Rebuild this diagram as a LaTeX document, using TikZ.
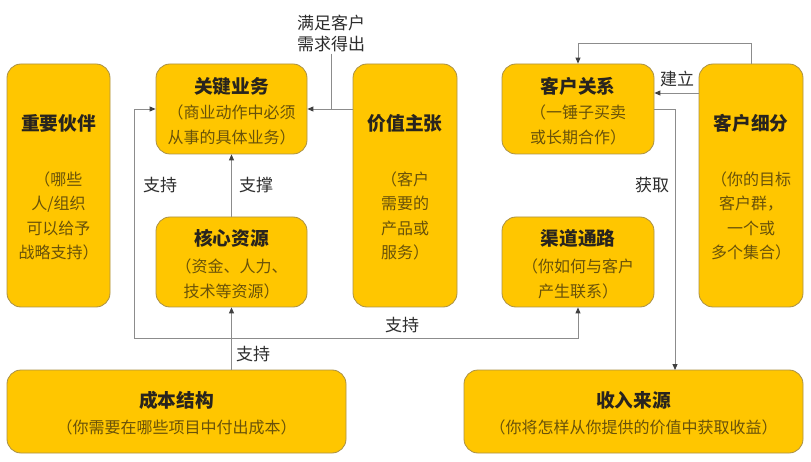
\documentclass[tikz,border=0pt]{standalone}
\usepackage{fontspec}
\setmainfont{Noto Sans CJK SC}
\usetikzlibrary{arrows.meta}
\definecolor{boxfill}{RGB}{255,198,0}
\definecolor{boxline}{RGB}{170,145,70}
\definecolor{titlec}{RGB}{40,36,30}
\definecolor{subc}{RGB}{105,82,10}
\definecolor{linec}{RGB}{140,140,140}
\definecolor{labc}{RGB}{45,45,45}
\begin{document}
\begin{tikzpicture}[x=1pt,y=-1pt,
  card/.style={draw=boxline,line width=0.8pt,fill=boxfill,rounded corners=14pt,inner sep=0pt},
  ttl/.style={inner sep=0pt,text=titlec,font=\fontsize{18.7}{24}\selectfont\bfseries},
  sub/.style={inner sep=0pt,text=subc,align=center,font=\fontsize{16}{24.5}\selectfont},
  lab/.style={inner sep=0pt,text=labc,align=center,font=\fontsize{17}{21}\selectfont},
  conn/.style={draw=linec,line width=0.9pt},
  arr/.style={conn,-{Triangle[length=6pt,width=5pt,color=black!75]}},
  darr/.style={conn,{Triangle[length=6pt,width=5pt,color=black!75]}-{Triangle[length=6pt,width=5pt,color=black!75]}}]
\useasboundingbox (0,0) rectangle (811,462);
\fill[white] (0,0) rectangle (811,462);
% boxes
\node[card,minimum width=103pt,minimum height=243pt] (partners) at (58.5,185.5) {};
\node[card,minimum width=151pt,minimum height=90pt] (activities) at (231.5,109) {};
\node[card,minimum width=151pt,minimum height=90pt] (resources) at (231.5,262) {};
\node[card,minimum width=104pt,minimum height=243pt] (value) at (405,185.5) {};
\node[card,minimum width=152pt,minimum height=90pt] (relations) at (578,109) {};
\node[card,minimum width=152pt,minimum height=90pt] (channels) at (578,262) {};
\node[card,minimum width=104pt,minimum height=243pt] (segments) at (751,185.5) {};
\node[card,minimum width=339pt,minimum height=83pt] (cost) at (176.5,411.5) {};
\node[card,minimum width=339pt,minimum height=83pt] (revenue) at (633.5,411.5) {};
% texts
\node[ttl] (t1) at (58.5,123) {重要伙伴};
\node[sub] (s1) at (58.5,216) {（哪些\\人/组织\\可以给予\\战略支持）};
\node[ttl] (t2) at (231.5,86) {关键业务};
\node[sub] (s2) at (231.5,125) {（商业动作中必须\\从事的具体业务）};
\node[ttl] (t3) at (231.5,238) {核心资源};
\node[sub] (s3) at (231.5,279) {（资金、人力、\\技术等资源）};
\node[ttl] (t4) at (405,123) {价值主张};
\node[sub] (s4) at (405,216) {（客户\\需要的\\产品或\\服务）};
\node[ttl] (t5) at (578,86) {客户关系};
\node[sub] (s5) at (578,125) {（一锤子买卖\\或长期合作）};
\node[ttl] (t6) at (578,238) {渠道通路};
\node[sub] (s6) at (578,279) {（你如何与客户\\产生联系）};
\node[ttl] (t7) at (751,123) {客户细分};
\node[sub] (s7) at (751,216) {（你的目标\\客户群，\\一个或\\多个集合）};
\node[ttl] (t8) at (176.5,400) {成本结构};
\node[sub] (s8) at (176.5,427) {（你需要在哪些项目中付出成本）};
\node[ttl] (t9) at (633.5,400) {收入来源};
\node[sub] (s9) at (633.5,427) {（你将怎样从你提供的价值中获取收益）};
% labels
\node[lab] (need) at (331,33) {满足客户\\需求得出};
\node[lab] (l1) at (160,185) {支持};
\node[lab] (l2) at (256,185) {支撑};
\node[lab] (l3) at (253,354) {支持};
\node[lab] (l4) at (402,325) {支持};
\node[lab] (l5) at (677,79) {建立};
\node[lab] (l6) at (652,185) {获取};
% coordinates
\coordinate (lp) at (134,338);
\coordinate (tp) at (578,43);
\coordinate (rv) at (675,370);
% connectors
\draw[arr] (activities.east -| value.west) -- (activities.east);
\draw[conn] ([yshift=-2pt]need.south) -- (need.south |- activities.east);
\draw[arr] (resources.north) -- (activities.south);
\draw[arr] (resources.south |- cost.north) -- (resources.south);
\draw[darr] (activities.west) -| (lp) -| (channels.south);
\draw[arr] (segments.west |- 0,93) -- (relations.east |- 0,93);
\draw[arr] (segments.north) |- (tp) -- (relations.north);
\draw[arr] (relations.east) -| (rv);
\end{tikzpicture}
\end{document}
